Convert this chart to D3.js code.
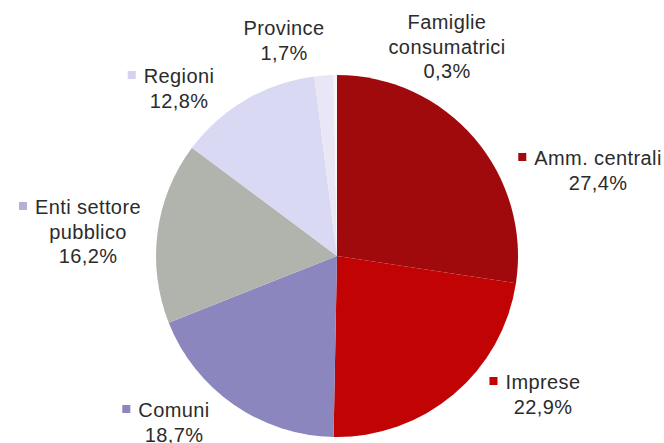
<!DOCTYPE html>
<html>
<head>
<meta charset="utf-8">
<script src="https://cdn.jsdelivr.net/npm/d3@7"></script>
<style>
  html, body { margin: 0; padding: 0; background: #ffffff; }
  svg { display: block; }
  text { font-family: "Liberation Sans", Arial, sans-serif; fill: #2b2b2b; }
</style>
</head>
<body>
<svg id="chart" width="664" height="443"></svg>
<script>
// Sector shares (%), in clockwise order from 12 o'clock
const categories = ["Amm. centrali", "Imprese", "Comuni", "Enti settore pubblico", "Regioni", "Province", "Famiglie consumatrici"];
const values = [27.4, 22.9, 18.7, 16.2, 12.8, 1.7, 0.3];
const valueLabels = ["27,4%", "22,9%", "18,7%", "16,2%", "12,8%", "1,7%", "0,3%"];

// Label text broken into lines
const labelLines = [
  ["Amm. centrali"],
  ["Imprese"],
  ["Comuni"],
  ["Enti settore", "pubblico"],
  ["Regioni"],
  ["Province"],
  ["Famiglie", "consumatrici"]
];

// Styling
const sliceColors = ["#a00a0c", "#c10303", "#8b86bd", "#b1b3ad", "#d9d9f4", "#e9e7f5", "#f6f5f7"];
const markerColors = ["#a00a0c", "#c10303", "#8b86bd", "#b3b2d6", "#d3d3f0", null, null];
// Label anchors: centre x and first-line baseline
const labelAnchors = [[598, 165], [543, 389], [174, 417], [88, 214], [179, 83], [284, 35], [447, 29]];

const width = 664, height = 443;
const cx = 337, cy = 256, radius = 181;
const lineHeight = 24.5;

const svg = d3.select("#chart");

const pie = d3.pie().sort(null).value(d => d.value).startAngle(0).endAngle(2 * Math.PI);
const arc = d3.arc().innerRadius(0).outerRadius(radius);

const data = categories.map((c, i) => ({
  name: c, value: values[i], label: valueLabels[i], lines: labelLines[i],
  color: sliceColors[i], marker: markerColors[i], anchor: labelAnchors[i]
}));

const g = svg.append("g").attr("transform", `translate(${cx},${cy})`);
g.selectAll("path")
  .data(pie(data))
  .join("path")
  .attr("d", arc)
  .attr("fill", d => d.data.color);

// Labels
const labels = svg.append("g").selectAll("g")
  .data(data)
  .join("g")
  .attr("transform", d => `translate(${d.anchor[0]},${d.anchor[1]})`);

labels.each(function(d) {
  const sel = d3.select(this);
  const allLines = d.lines.concat([d.label]);
  const t = sel.append("text")
    .attr("text-anchor", "middle")
    .style("font-size", "20px")
    .style("letter-spacing", "0.4px");
  allLines.forEach((ln, k) => {
    t.append("tspan").attr("x", 0).attr("y", k * lineHeight).text(ln);
  });
  if (d.marker) {
    const first = t.select("tspan").node();
    const w = first.getComputedTextLength();
    sel.append("rect")
      .attr("x", -w / 2 - 16)
      .attr("y", -12)
      .attr("width", 8)
      .attr("height", 8)
      .attr("fill", d.marker);
  }
});
</script>
</body>
</html>
